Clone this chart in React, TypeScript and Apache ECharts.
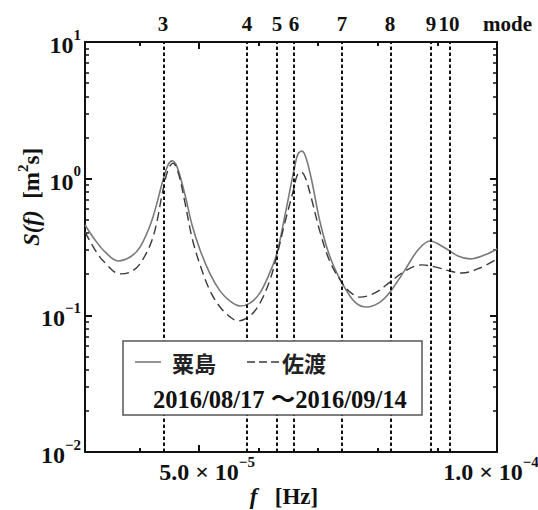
import React, { useEffect, useRef } from "react";
import * as echarts from "echarts";

// frequency in units of 1e-5 Hz
const xMin = 3.0864;
const xMax = 10;
const xMajorTicks = [5, 10];
const xMinorTicks = [4, 6, 7, 8, 9];
const yMin = 0.01;
const yMax = 10;
const yMinorTicks = [
  0.02, 0.03, 0.04, 0.05, 0.06, 0.07, 0.08, 0.09,
  0.2, 0.3, 0.4, 0.5, 0.6, 0.7, 0.8, 0.9,
  2, 3, 4, 5, 6, 7, 8, 9,
];

const modeLabels = ["3", "4", "5", "6", "7", "8", "9", "10"];
const modeFreqs = [4.396, 5.805, 6.309, 6.594, 7.4, 8.205, 8.893, 9.195];

const seriesNames = ["粟島", "佐渡"];
const dateText = "2016/08/17 ～2016/09/14";

// 粟島 (solid)
const freqSolid = [
  3.087, 3.255, 3.423, 3.641, 3.842, 4.01, 4.211, 4.396, 4.48, 4.547, 4.631,
  4.765, 4.883, 5.017, 5.185, 5.352, 5.52, 5.688, 5.856, 6.023, 6.191, 6.309,
  6.443, 6.594, 6.661, 6.728, 6.795, 6.896, 7.03, 7.198, 7.399, 7.617, 7.819,
  8.037, 8.205, 8.456, 8.674, 8.876, 9.128, 9.346, 9.547, 9.799, 10.0,
];
const valSolid = [
  0.458, 0.356, 0.291, 0.25, 0.267, 0.316, 0.499, 0.978, 1.26, 1.35, 1.22,
  0.76, 0.458, 0.301, 0.201, 0.151, 0.127, 0.117, 0.123, 0.146, 0.207, 0.286,
  0.542, 1.16, 1.52, 1.59, 1.42, 0.946, 0.482, 0.267, 0.173, 0.125, 0.115,
  0.125, 0.148, 0.215, 0.301, 0.35, 0.311, 0.272, 0.259, 0.277, 0.306,
];

// 佐渡 (dashed)
const freqDashed = [
  3.087, 3.255, 3.423, 3.674, 3.842, 4.01, 4.228, 4.396, 4.48, 4.564, 4.648,
  4.765, 4.883, 5.017, 5.185, 5.352, 5.52, 5.654, 5.856, 6.023, 6.191, 6.309,
  6.443, 6.594, 6.644, 6.711, 6.779, 6.879, 7.03, 7.198, 7.399, 7.534, 7.701,
  7.953, 8.205, 8.456, 8.742, 8.96, 9.211, 9.413, 9.715, 10.0,
];
const valDashed = [
  0.408, 0.301, 0.242, 0.201, 0.207, 0.238, 0.374, 0.827, 1.16, 1.3, 1.12,
  0.664, 0.368, 0.234, 0.151, 0.115, 0.0974, 0.091, 0.0991, 0.123, 0.182, 0.277,
  0.482, 0.855, 1.05, 1.12, 1.03, 0.735, 0.408, 0.246, 0.173, 0.148, 0.136,
  0.146, 0.175, 0.211, 0.234, 0.226, 0.211, 0.204, 0.222, 0.259,
];

const SERIF = "'Liberation Serif', 'Times New Roman', serif";
const CJK = "'Noto Sans CJK JP', 'Noto Sans CJK SC', sans-serif";
const INK = "#111";
const SOLID_COLOR = "#7a7a7a";
const DASH_COLOR = "#3a3a3a";

export default function App() {
  const ref = useRef<HTMLDivElement>(null);

  useEffect(() => {
    if (!ref.current) return;
    const chart = echarts.init(ref.current, undefined, { renderer: "svg" });

    const gridBox = { left: 85, right: 41, top: 42, bottom: 58, containLabel: false, outerBoundsMode: "none" };
    const frame = { show: true, onZero: false, lineStyle: { color: INK, width: 2 } };

    const supRich = {
      b: { fontFamily: SERIF, fontWeight: "bold", fontSize: 24, color: INK, lineHeight: 30, verticalAlign: "bottom" },
      s: { fontFamily: SERIF, fontWeight: "bold", fontSize: 15, color: INK, lineHeight: 15, verticalAlign: "top" },
      sp: { width: 16 },
      sp2: { width: 12 },
    };

    const legendText = { fontFamily: CJK, fontWeight: "bold", fontSize: 22, fill: "#222" };

    const option: any = {
      animation: false,
      backgroundColor: "#fff",
      grid: [{ ...gridBox }, { ...gridBox }, { ...gridBox }],
      xAxis: [
        {
          gridIndex: 0,
          type: "value",
          position: "bottom",
          min: xMin,
          max: xMax,
          axisLine: frame,
          splitLine: { show: false },
          axisTick: { show: true, inside: true, length: 7, customValues: xMajorTicks, lineStyle: { color: INK, width: 2 } },
          axisLabel: {
            show: true,
            customValues: xMajorTicks,
            margin: 2,
            hideOverlap: false,
            formatter: (v: number) =>
              v === 5 ? "{sp|}{b|5.0 × 10}{s|−5}" : "{b|1.0 × 10}{s|−4}{sp2|}",
            rich: supRich,
          },
        },
        {
          gridIndex: 0,
          type: "value",
          position: "top",
          min: xMin,
          max: xMax,
          axisLine: frame,
          splitLine: { show: false },
          axisTick: { show: false },
          axisLabel: {
            show: true,
            customValues: modeFreqs,
            margin: 8,
            hideOverlap: false,
            fontFamily: SERIF,
            fontWeight: "bold",
            fontSize: 21,
            color: INK,
            formatter: (v: number) => {
              let best = 0;
              for (let i = 0; i < modeFreqs.length; i++) {
                if (Math.abs(modeFreqs[i] - v) < Math.abs(modeFreqs[best] - v)) best = i;
              }
              return modeLabels[best];
            },
          },
        },
        {
          gridIndex: 1,
          type: "value",
          position: "bottom",
          min: xMin,
          max: xMax,
          axisLine: { show: false, onZero: false },
          splitLine: { show: false },
          axisLabel: { show: false },
          axisTick: { show: true, inside: true, length: 4, customValues: xMinorTicks, lineStyle: { color: INK, width: 2 } },
        },
        {
          gridIndex: 1,
          type: "value",
          position: "top",
          min: xMin,
          max: xMax,
          axisLine: { show: false, onZero: false },
          splitLine: { show: false },
          axisLabel: { show: false },
          axisTick: { show: true, inside: true, length: 4, customValues: xMinorTicks, lineStyle: { color: INK, width: 2 } },
        },
        {
          gridIndex: 2,
          type: "value",
          position: "top",
          min: xMin,
          max: xMax,
          axisLine: { show: false, onZero: false },
          splitLine: { show: false },
          axisLabel: { show: false },
          axisTick: { show: true, inside: true, length: 7, customValues: xMajorTicks, lineStyle: { color: INK, width: 2 } },
        },
      ],
      yAxis: [
        {
          gridIndex: 0,
          type: "log",
          logBase: 10,
          position: "left",
          min: yMin,
          max: yMax,
          axisLine: frame,
          splitLine: { show: false },
          axisTick: { show: true, inside: true, length: 7, lineStyle: { color: INK, width: 2 } },
          axisLabel: {
            show: true,
            margin: 4,
            formatter: (v: number) => {
              const e = Math.round(Math.log10(v));
              return "{b|10}{s|" + (e < 0 ? "−" + -e : String(e)) + "}";
            },
            rich: supRich,
          },
        },
        {
          gridIndex: 0,
          type: "log",
          logBase: 10,
          position: "right",
          min: yMin,
          max: yMax,
          axisLine: frame,
          splitLine: { show: false },
          axisTick: { show: true, inside: true, length: 7, lineStyle: { color: INK, width: 2 } },
          axisLabel: { show: false },
        },
        {
          gridIndex: 1,
          type: "log",
          logBase: 10,
          position: "left",
          min: yMin,
          max: yMax,
          axisLine: { show: false },
          splitLine: { show: false },
          axisLabel: { show: false },
          axisTick: { show: true, inside: true, length: 4, customValues: yMinorTicks, lineStyle: { color: INK, width: 1.5 } },
        },
        {
          gridIndex: 1,
          type: "log",
          logBase: 10,
          position: "right",
          min: yMin,
          max: yMax,
          axisLine: { show: false },
          splitLine: { show: false },
          axisLabel: { show: false },
          axisTick: { show: true, inside: true, length: 4, customValues: yMinorTicks, lineStyle: { color: INK, width: 1.5 } },
        },
        {
          gridIndex: 2,
          type: "log",
          logBase: 10,
          min: yMin,
          max: yMax,
          show: false,
        },
      ],
      graphic: [
        {
          type: "rect",
          z: 7,
          shape: { x: 123, y: 341, width: 299, height: 74 },
          style: { fill: "#fff", stroke: "#555", lineWidth: 1.5 },
        },
        {
          type: "line",
          z: 8,
          shape: { x1: 135, y1: 362, x2: 161, y2: 362 },
          style: { stroke: SOLID_COLOR, lineWidth: 1.6 },
        },
        {
          type: "text",
          z: 8,
          x: 172,
          y: 362,
          style: { text: seriesNames[0], ...legendText, verticalAlign: "middle" },
        },
        {
          type: "line",
          z: 8,
          shape: { x1: 247, y1: 362, x2: 280, y2: 362 },
          style: { stroke: DASH_COLOR, lineWidth: 1.4, lineDash: [8, 4] },
        },
        {
          type: "text",
          z: 8,
          x: 282,
          y: 362,
          style: { text: seriesNames[1], ...legendText, verticalAlign: "middle" },
        },
        {
          type: "text",
          z: 8,
          x: 153,
          y: 399,
          style: { text: dateText, fontFamily: SERIF + ", " + CJK, fontWeight: "bold", fontSize: 24.5, fill: INK, verticalAlign: "middle" },
        },
        {
          type: "text",
          z: 8,
          left: 483,
          top: 13,
          style: { text: "mode", fontFamily: SERIF, fontWeight: "bold", fontSize: 21, fill: INK },
        },
        {
          type: "text",
          z: 8,
          x: 284,
          y: 496,
          style: {
            text: "{i|f}{n|   [Hz]}",
            align: "center",
            verticalAlign: "middle",
            rich: {
              i: { fontFamily: SERIF, fontWeight: "bold", fontStyle: "italic", fontSize: 23, fill: INK, lineHeight: 24 },
              n: { fontFamily: SERIF, fontWeight: "bold", fontSize: 23, fill: INK, lineHeight: 24 },
            },
          },
        },
        {
          type: "text",
          z: 8,
          x: 29,
          y: 197,
          rotation: Math.PI / 2,
          style: {
            text: "{i|S(f)}{n|  [m}{p|2}{n|s]}",
            align: "center",
            verticalAlign: "middle",
            rich: {
              i: { fontFamily: SERIF, fontWeight: "bold", fontStyle: "italic", fontSize: 23, fill: INK, lineHeight: 28, verticalAlign: "bottom" },
              n: { fontFamily: SERIF, fontWeight: "bold", fontSize: 23, fill: INK, lineHeight: 28, verticalAlign: "bottom" },
              p: { fontFamily: SERIF, fontWeight: "bold", fontSize: 15, fill: INK, lineHeight: 15, verticalAlign: "top" },
            },
          },
        },
      ],
      series: [
        {
          name: seriesNames[0],
          type: "line",
          xAxisIndex: 0,
          yAxisIndex: 0,
          data: freqSolid.map((f, i) => [f, valSolid[i]]),
          showSymbol: false,
          symbol: "none",
          smooth: 0.35,
          lineStyle: { color: SOLID_COLOR, width: 1.6 },
          itemStyle: { color: SOLID_COLOR },
          markLine: {
            silent: true,
            symbol: ["none", "none"],
            label: { show: false },
            lineStyle: { color: INK, width: 2, type: [3.5, 2.5] },
            data: modeFreqs.map((f) => ({ xAxis: f })),
          },
        },
        {
          name: seriesNames[1],
          type: "line",
          xAxisIndex: 0,
          yAxisIndex: 0,
          data: freqDashed.map((f, i) => [f, valDashed[i]]),
          showSymbol: false,
          symbol: "none",
          smooth: 0.35,
          lineStyle: { color: DASH_COLOR, width: 1.4, type: [9, 5] },
          itemStyle: { color: DASH_COLOR },
        },
      ],
    };

    chart.setOption(option);
    return () => chart.dispose();
  }, []);

  return (
    <div
      ref={ref}
      style={{ position: "absolute", left: 0, top: 0, width: 538, height: 510, background: "#fff" }}
    />
  );
}
